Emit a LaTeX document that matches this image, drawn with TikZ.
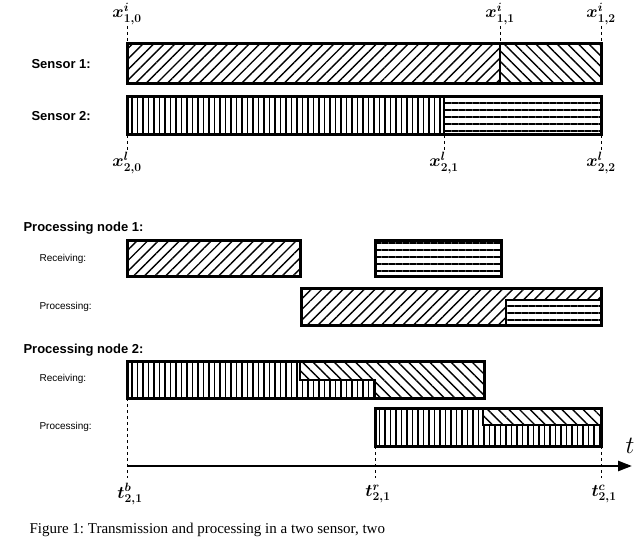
\documentclass[tikz,border=0pt]{standalone}
\usepackage{fontspec}
\setmainfont{Liberation Serif}
\setsansfont{Liberation Sans}
\usepackage{bm}
\usetikzlibrary{patterns.meta,arrows.meta}
\tikzset{
  bx/.style={draw,line width=3pt},
  ne/.style={pattern={Lines[angle=45,distance=7.5pt,line width=1.4pt]}},
  nw/.style={pattern={Lines[angle=-45,distance=7.5pt,line width=1.4pt]}},
  vl/.style={pattern={Lines[angle=90,distance=5.5pt,line width=1.3pt]}},
  hl/.style={pattern={Lines[angle=0,distance=7pt,line width=1.3pt]}},
  tick/.style={dashed,line width=0.8pt},
  lab/.style={font=\sffamily\bfseries\fontsize{13}{14}\selectfont,anchor=west},
  slab/.style={font=\sffamily\fontsize{10}{12}\selectfont,anchor=west},
  ml/.style={font=\fontsize{17}{18}\selectfont}
}
\begin{document}
\begin{tikzpicture}[x=1pt,y=-1pt]
\useasboundingbox (0,0) rectangle (640,537);
% sensors
\node[lab] (s1) at (28,64) {Sensor 1:};
\node[lab] (s2) at (28,116) {Sensor 2:};
\path[ne] (127,44) rectangle (500,84);
\path[nw] (500,44) rectangle (601,84);
\draw[bx] (127,44) rectangle (601,84);
\draw[line width=2.5pt] (500,44) -- (500,84);
\path[vl] (127,97) rectangle (444,135);
\path[hl] (444,97) rectangle (601,135);
\draw[bx] (127,97) rectangle (601,135);
\draw[line width=2pt] (444,97) -- (444,135);
% x labels
\node[ml] (a0) at (127,14) {$\bm{x^{i}_{1,0}}$};
\node[ml] (a1) at (500,14) {$\bm{x^{i}_{1,1}}$};
\node[ml] (a2) at (601,14) {$\bm{x^{i}_{1,2}}$};
\draw[tick] (127,26) -- (127,44);
\draw[tick] (500,26) -- (500,44);
\draw[tick] (601,26) -- (601,44);
\node[ml] (b0) at (127,163) {$\bm{x^{l}_{2,0}}$};
\node[ml] (b1) at (444,163) {$\bm{x^{l}_{2,1}}$};
\node[ml] (b2) at (601,163) {$\bm{x^{l}_{2,2}}$};
\draw[tick] (127,135) -- (127,152);
\draw[tick] (444,135) -- (444,152);
\draw[tick] (601,135) -- (601,152);
% processing node 1
\node[lab] (p1) at (20,228) {Processing node 1:};
\node[slab] (r1) at (36,259) {Receiving:};
\node[slab] (q1) at (36,307) {Processing:};
\path[ne] (127,241) rectangle (300,277);
\draw[bx] (127,241) rectangle (300,277);
\path[hl] (375,241) rectangle (501,277);
\draw[bx] (375,241) rectangle (501,277);
\path[ne] (301,289) rectangle (601,326);
\path[fill=white] (506,300) rectangle (601,326);
\path[hl] (506,300) rectangle (601,326);
\draw[line width=2.5pt] (506,326) -- (506,300) -- (601,300);
\draw[bx] (301,289) rectangle (601,326);
% processing node 2
\node[lab] (p2) at (20,350) {Processing node 2:};
\node[slab] (r2) at (36,379) {Receiving:};
\node[slab] (q2) at (36,427) {Processing:};
\path[vl] (127,361) rectangle (300,398);
\path[nw] (300,361) rectangle (484,398);
\path[fill=white] (300,380) rectangle (375,398);
\path[vl] (300,380) rectangle (375,398);
\draw[line width=2pt] (300,361) -- (300,380) -- (375,380) -- (375,398);
\draw[bx] (127,361) rectangle (484,398);
\path[vl] (375,408) rectangle (601,446);
\path[fill=white] (483,408) rectangle (601,425);
\path[nw] (483,408) rectangle (601,425);
\draw[line width=2pt] (483,408) -- (483,425) -- (601,425);
\draw[bx] (375,408) rectangle (601,446);
% axis
\coordinate (o) at (127,466);
\coordinate (e) at (632,466);
\draw[line width=2.5pt,-{Triangle[length=14pt,width=10pt]}] (o) -- (e);
\node[font=\fontsize{26}{26}\selectfont] (t) at (630,446) {$t$};
\draw[tick] (127,398) -- (127,478);
\draw[tick] (375,446) -- (375,478);
\draw[tick] (601,446) -- (601,478);
\node[ml] (t0) at (130,494) {$\bm{t^{b}_{2,1}}$};
\node[ml] (t1) at (378,494) {$\bm{t^{r}_{2,1}}$};
\node[ml] (t2) at (604,494) {$\bm{t^{c}_{2,1}}$};
\node[font=\fontsize{15}{15}\selectfont,anchor=west] (cap) at (26,530) {Figure 1:\ Transmission and processing in a two sensor, two};
\end{tikzpicture}
\end{document}
